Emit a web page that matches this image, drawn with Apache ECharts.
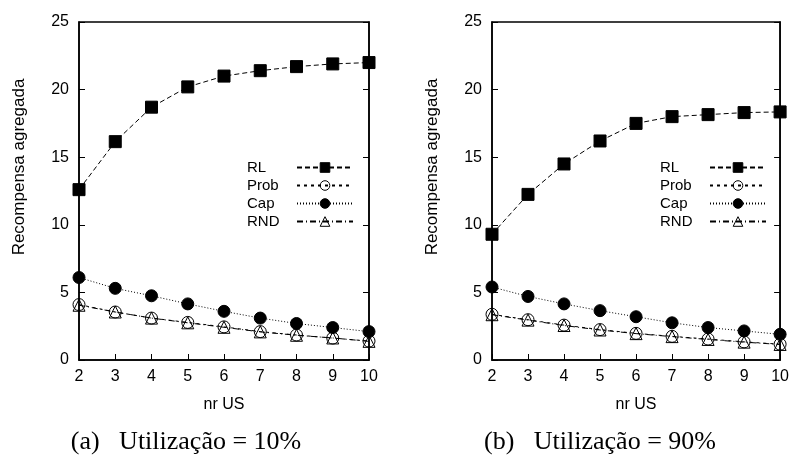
<!DOCTYPE html>
<html>
<head>
<meta charset="utf-8">
<script src="https://cdn.jsdelivr.net/npm/echarts@6/dist/echarts.min.js"></script>
<style>
  html, body { margin: 0; padding: 0; background: #fff; }
  #chart { width: 792px; height: 460px; }
</style>
</head>
<body>
<div id="chart"></div>
<script>
// nr US
const nrUS = [2, 3, 4, 5, 6, 7, 8, 9, 10];
const yTicks = [0, 5, 10, 15, 20, 25];

// (a) Utilização = 10%
const rlA = [12.6, 16.15, 18.7, 20.2, 21.0, 21.4, 21.7, 21.9, 22.0];
const probA = [4.1, 3.55, 3.1, 2.78, 2.45, 2.1, 1.85, 1.62, 1.4];
const capA = [6.1, 5.3, 4.75, 4.15, 3.6, 3.1, 2.7, 2.4, 2.1];
const rndA = [4.05, 3.55, 3.1, 2.75, 2.42, 2.08, 1.83, 1.63, 1.38];

// (b) Utilização = 90%
const rlB = [9.3, 12.25, 14.5, 16.2, 17.5, 18.0, 18.15, 18.3, 18.35];
const probB = [3.38, 2.98, 2.58, 2.25, 1.97, 1.75, 1.55, 1.34, 1.17];
const capB = [5.4, 4.7, 4.15, 3.65, 3.2, 2.75, 2.4, 2.15, 1.9];
const rndB = [3.35, 2.95, 2.55, 2.22, 1.95, 1.73, 1.52, 1.32, 1.15];

const names = ["RL", "Prob", "Cap", "RND"];
const captions = ["(a)\u2002 Utilização = 10%", "(b)\u2002 Utilização = 90%"];

const font = "'Liberation Sans', Arial, sans-serif";
const serif = "'Liberation Serif', 'Times New Roman', serif";

const styles = {
  RL: { symbol: "rect", size: 12, fill: "#000", dash: [5, 3] },
  Prob: { symbol: "circle", size: 12, fill: "rgba(0,0,0,0)", dash: [3, 4] },
  Cap: { symbol: "circle", size: 12, fill: "#000", dash: [1, 2] },
  RND: { symbol: "triangle", size: 12, fill: "rgba(0,0,0,0)", dash: [6, 3, 1, 3] },
};

const grids = [
  { left: 79, right: 423, top: 22, bottom: 100, show: true, borderColor: "#000", borderWidth: 1.5 },
  { left: 492, right: 10, top: 22, bottom: 100, show: true, borderColor: "#000", borderWidth: 1.5 },
];

function xAxisFor(i) {
  return {
    type: "value", gridIndex: i, min: 2, max: 10, interval: 1,
    name: "nr US", nameLocation: "middle", nameGap: 37,
    nameTextStyle: { fontFamily: font, fontSize: 16, color: "#000" },
    axisLine: { lineStyle: { color: "#000", width: 1.5 } },
    axisTick: { inside: true, length: 6, lineStyle: { color: "#000" } },
    axisLabel: { fontFamily: font, fontSize: 16, color: "#000", margin: 9 },
    splitLine: { show: false },
  };
}

function yAxesFor(i) {
  const base = {
    type: "value", gridIndex: i, min: yTicks[0], max: yTicks[yTicks.length - 1], interval: 5,
    axisLine: { show: true, lineStyle: { color: "#000", width: 1.5 } },
    axisTick: { show: true, inside: true, length: 6, lineStyle: { color: "#000" } },
    splitLine: { show: false },
  };
  return [
    Object.assign({}, base, {
      position: "left",
      axisLabel: { fontFamily: font, fontSize: 16, color: "#000", margin: 10 },
    }),
    Object.assign({}, base, { position: "right", axisLabel: { show: false } }),
  ];
}

function seriesFor(i, sets) {
  return names.map((n, k) => {
    const s = styles[n];
    return {
      name: n, type: "line", xAxisIndex: i, yAxisIndex: i * 2,
      data: nrUS.map((x, j) => [x, sets[k][j]]),
      symbol: s.symbol, symbolSize: s.size, showAllSymbol: true, clip: false,
      itemStyle: { color: s.fill, borderColor: "#000", borderWidth: 1 },
      lineStyle: { color: "#000", width: 1, type: s.dash },
      z: 10 - k,
    };
  });
}

function legendFor(left) {
  return {
    data: names, orient: "vertical", align: "right",
    left: left, top: 155, itemWidth: 56, itemHeight: 12, itemGap: 3,
    selectedMode: false,
    itemStyle: { borderWidth: 1 },
    formatter: "{t|{name}}",
    textStyle: {
      color: "#000", fontFamily: font, fontSize: 15,
      rich: { t: { width: 45, align: "left", fontFamily: font, fontSize: 15, color: "#000" } },
    },
  };
}

const chart = echarts.init(document.getElementById("chart"));
chart.setOption({
  animation: false,
  backgroundColor: "#fff",
  grid: grids,
  xAxis: [xAxisFor(0), xAxisFor(1)],
  yAxis: yAxesFor(0).concat(yAxesFor(1)),
  legend: [legendFor(242), legendFor(655)],
  series: seriesFor(0, [rlA, probA, capA, rndA]).concat(seriesFor(1, [rlB, probB, capB, rndB])),
  graphic: [
    { type: "text", x: 19, y: 167, rotation: Math.PI / 2,
      style: { text: "Recompensa agregada", font: "17px " + font, fill: "#000", align: "center", verticalAlign: "middle" } },
    { type: "text", x: 432, y: 167, rotation: Math.PI / 2,
      style: { text: "Recompensa agregada", font: "17px " + font, fill: "#000", align: "center", verticalAlign: "middle" } },
    { type: "text", x: 186, y: 442,
      style: { text: captions[0], font: "26px " + serif, fill: "#000", align: "center", verticalAlign: "middle" } },
    { type: "text", x: 600, y: 442,
      style: { text: captions[1], font: "26px " + serif, fill: "#000", align: "center", verticalAlign: "middle" } },
  ],
});
</script>
</body>
</html>
